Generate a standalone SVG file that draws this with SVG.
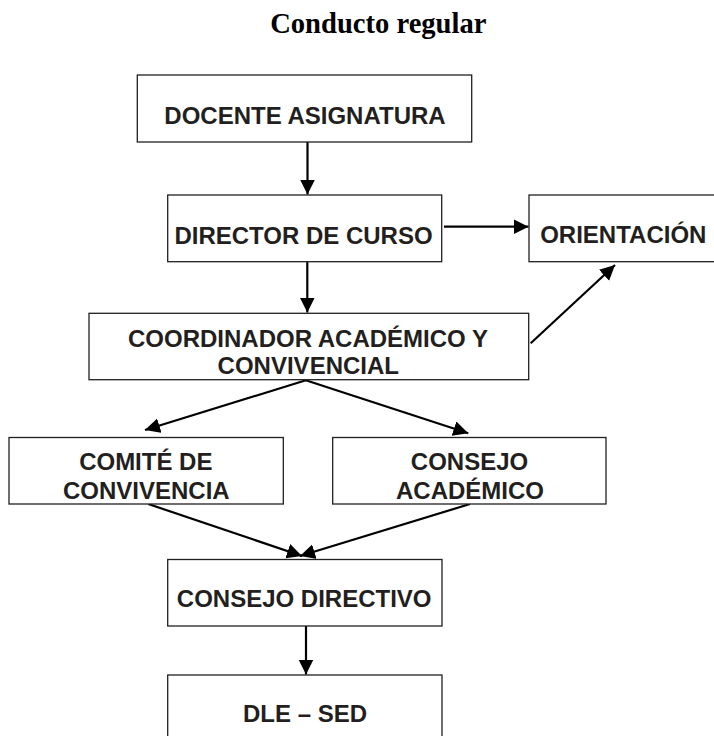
<svg xmlns="http://www.w3.org/2000/svg" width="714" height="736" viewBox="0 0 714 736">
<style>
.box{fill:#fff;stroke:#231f20;stroke-width:1.3}
.t{font-family:"Liberation Sans",Arial,sans-serif;font-weight:bold;font-size:24px;fill:#231f20;text-anchor:middle}
.title{font-family:"Liberation Serif","Times New Roman",serif;font-weight:bold;font-size:28.6px;fill:#000;text-anchor:middle}
.c{stroke:#000;stroke-width:2.2;fill:none;marker-end:url(#ah)}
</style>
<defs>
<marker id="ah" markerUnits="userSpaceOnUse" markerWidth="16" markerHeight="16" refX="15" refY="7.5" orient="auto">
<path d="M0,0 L15,7.5 L0,15 z" fill="#000"/>
</marker>
</defs>
<rect width="714" height="736" fill="#fff"/>
<text class="title" x="378.3" y="33">Conducto regular</text>
<g id="connectors">
<line class="c" x1="307.5" y1="142" x2="307.5" y2="194.5"/>
<line class="c" x1="444" y1="226.7" x2="528.5" y2="226.7"/>
<line class="c" x1="307.3" y1="261.7" x2="307.3" y2="312.5"/>
<line class="c" x1="530.7" y1="343.3" x2="615" y2="265"/>
<line class="c" x1="306.7" y1="380" x2="145" y2="430"/>
<line class="c" x1="305" y1="380" x2="468.3" y2="433.3"/>
<line class="c" x1="148.3" y1="504" x2="302" y2="556"/>
<line class="c" x1="470" y1="504" x2="300" y2="556"/>
<line class="c" x1="306" y1="626" x2="306" y2="674.5"/>
</g>
<g id="docente">
<rect class="box" x="137.3" y="75" width="334.4" height="67"/>
<text class="t" x="305" y="124">DOCENTE ASIGNATURA</text>
</g>
<g id="director">
<rect class="box" x="167.7" y="195" width="274" height="66.7"/>
<text class="t" x="303.5" y="244.3">DIRECTOR DE CURSO</text>
</g>
<g id="orientacion">
<rect class="box" x="529" y="195" width="190" height="66.7"/>
<text class="t" x="623.3" y="243.3">ORIENTACIÓN</text>
</g>
<g id="coordinador">
<rect class="box" x="89" y="313.3" width="439.7" height="66.4"/>
<text class="t" x="308" y="346.7">COORDINADOR ACADÉMICO Y</text>
<text class="t" x="308.3" y="374.3">CONVIVENCIAL</text>
</g>
<g id="comite">
<rect class="box" x="9" y="437.5" width="274.3" height="66.5"/>
<text class="t" x="145.8" y="470">COMITÉ DE</text>
<text class="t" x="146.3" y="499">CONVIVENCIA</text>
</g>
<g id="consejo-academico">
<rect class="box" x="332.7" y="437.5" width="273.3" height="66.5"/>
<text class="t" x="469.5" y="470">CONSEJO</text>
<text class="t" x="470" y="499">ACADÉMICO</text>
</g>
<g id="consejo-directivo">
<rect class="box" x="167.7" y="559.5" width="274.3" height="66.5"/>
<text class="t" x="304.2" y="606.7">CONSEJO DIRECTIVO</text>
</g>
<g id="dle-sed">
<rect class="box" x="167.7" y="675" width="274.3" height="70"/>
<text class="t" x="305" y="721.7">DLE – SED</text>
</g>
</svg>
